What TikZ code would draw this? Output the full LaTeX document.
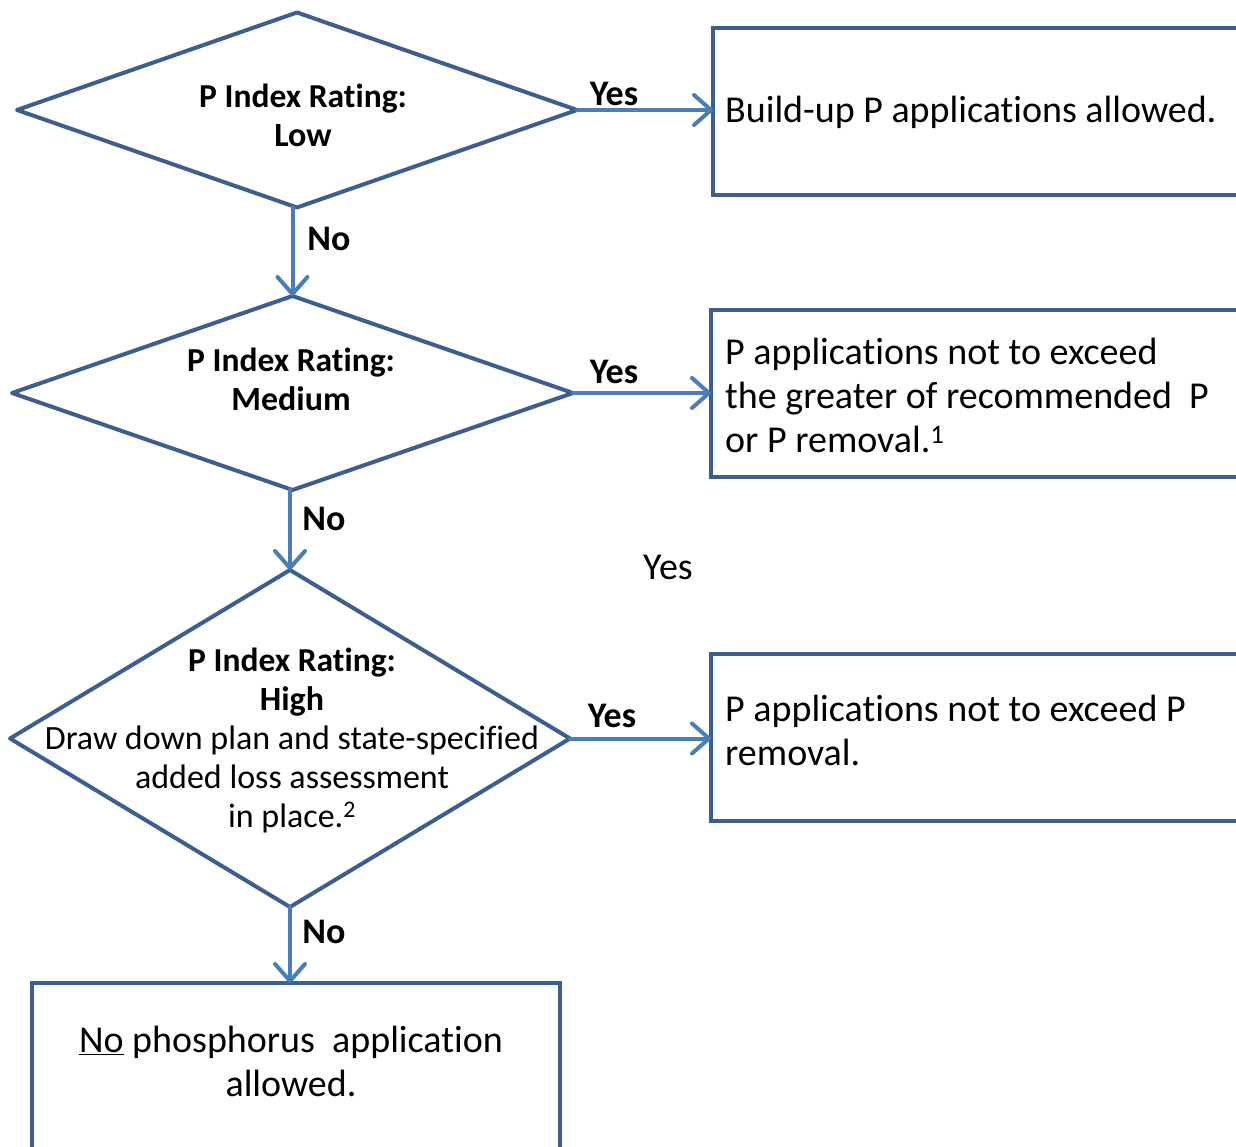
\documentclass[tikz,border=0pt]{standalone}
\usepackage{fontspec}
\setmainfont{Carlito}[RawFeature={-liga;-clig;-dlig;-calt}]
\usetikzlibrary{shapes.geometric,arrows.meta}
\definecolor{outl}{HTML}{3D5F90}
\definecolor{arr}{HTML}{4A7EBB}
\begin{document}
\begin{tikzpicture}[x=1pt,y=-1pt,
  dia/.style={diamond, draw=outl, line width=4pt, inner sep=0pt, outer sep=0pt, line join=round},
  boxnode/.style={rectangle, draw=outl, line width=4pt, inner sep=0pt, outer sep=0pt, anchor=north west},
  conn/.style={draw=arr, line width=4pt, line cap=round, -{Straight Barb[length=17pt, width=30pt, line width=4pt, round]}},
  boxtxt/.style={inner sep=0pt, align=left, font=\fontsize{38}{44}\selectfont},
  diatxt/.style={inner sep=0pt, align=center, font=\fontsize{34}{39}\selectfont},
  lab/.style={inner sep=0pt, font=\fontsize{36}{40}\selectfont\bfseries}
]
\useasboundingbox (0,0) rectangle (1236,1147);
\clip (0,0) rectangle (1236,1147);
\fill[white] (0,0) rectangle (1236,1147);

% diamonds
\node[dia, minimum width=560pt, minimum height=195pt] (d1) at (297,110) {};
\node[dia, minimum width=561pt, minimum height=194pt] (d2) at (292.5,393) {};
\node[dia, minimum width=560pt, minimum height=337pt] (d3) at (290,738.5) {};

% boxes
\node[boxnode, minimum width=600pt, minimum height=167pt] (b1) at (713,28) {};
\node[boxnode, minimum width=600pt, minimum height=167pt] (b2) at (711,310) {};
\node[boxnode, minimum width=600pt, minimum height=167pt] (b3) at (711,654) {};
\node[boxnode, minimum width=528pt, minimum height=220pt] (b4) at (32,983) {};

% diamond texts
\node[diatxt] (t1) at (303,115) {\fontsize{33.5}{39}\selectfont\textbf{P Index Rating:}\\\textbf{Low}};
\node[diatxt] (t2) at (291,379.5) {\fontsize{33.5}{39}\selectfont\textbf{P Index Rating:}\\\textbf{Medium}};
\node[diatxt] (t3) at (292,740) {{\fontsize{33.5}{39}\selectfont\textbf{P Index Rating:}}\\\textbf{High}\\Draw down plan and state-specified\\added loss assessment\\in place.\textsuperscript{2}};

% box texts
\node[boxtxt, anchor=west] (bt1) at (725,112) {Build-up P applications allowed.};
\node[boxtxt, anchor=west] (bt2) at (725,395) {P applications not to exceed\\the greater of recommended~~P\\or P removal.\textsuperscript{1}};
\node[boxtxt, anchor=west] (bt3) at (725,730) {P applications not to exceed P\\removal.};
\node[boxtxt, align=center] (bt4) at (291,1061) {\underline{No} phosphorus~ application\\allowed.};

% connectors
\draw[conn] (d1.east) -- (b1.west |- d1.east);
\draw[conn] (d2.east) -- (b2.west |- d2.east);
\draw[conn] (d3.east) -- (b3.west |- d3.east);
\draw[conn] (d1.south -| d2.north) -- (d2.north);
\draw[conn] (d2.south -| d3.north) -- (d3.north);
\draw[conn] (d3.south) -- (b4.north -| d3.south);

% labels
\node[lab] (y1) at (614,94) {Yes};
\node[lab] (y2) at (614,372) {Yes};
\node[lab] (y3) at (612,716) {Yes};
\node[lab] (n1) at (329,239) {No};
\node[lab] (n2) at (324,519) {No};
\node[lab] (n3) at (324,932) {No};
\node[inner sep=0pt, font=\fontsize{38}{40}\selectfont] (ys) at (668,567) {Yes};
\end{tikzpicture}
\end{document}
